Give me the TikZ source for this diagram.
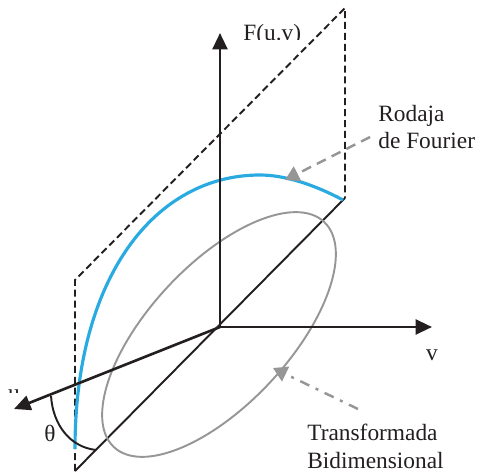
\documentclass[tikz,border=0pt]{standalone}
\usepackage{fontspec}
\setmainfont{Liberation Serif}
\definecolor{SliceBlue}{RGB}{41, 171, 226}
\definecolor{MarkGray} {RGB}{150, 150, 150}
\definecolor{InkBlack} {RGB}{35, 31, 32}
\usetikzlibrary{arrows.meta, positioning}

\begin{document}
\begin{tikzpicture}[
  x=0.02cm, y=-0.02cm,
  label/.style={
    align=center, inner sep=0pt,
    text=InkBlack,
    font=\fontsize{13.3}{15.9}\selectfont},
  axis/.style={
    -{Triangle[length=3.3mm, width=3mm]},
    line width=1.5pt, draw=InkBlack},
  frame/.style={
    line width=1.1pt,
    dash pattern=on 4pt off 2.2pt,
    draw=InkBlack},
  pointer/.style={
    -{Triangle[length=2.8mm, width=3.2mm]},
    line width=1.4pt, draw=MarkGray}
]
\useasboundingbox (0,0) rectangle (477,476);

\coordinate (orig) at (220,327);
\coordinate (fTip) at (220,33);
\coordinate (vTip) at (432,327);
\coordinate (uTip) at (14,409);
\coordinate (low)  at (75,471);
\coordinate (left) at (75,280);
\coordinate (high) at (345,8);
\coordinate (end)  at (345,198);

% solid diagonal and plane
\draw[line width=1.1pt, draw=InkBlack] (low) -- (end);
\draw[frame] (low) -- (left) -- (high) -- (end);

% ellipse and slice
\draw[MarkGray, line width=1.1pt, rotate around={47:(219,334.5)}]
  (219,334.5) ellipse (154 and 70);
\draw[SliceBlue, line width=1.8pt]
  (75,449) .. controls (75,277) and (155,175) .. (260,175)
  .. controls (285,175) and (315,185) .. (343,200);

% axes
\draw[axis] (orig) -- (fTip);
\draw[axis] (orig) -- (vTip);
\draw[axis] (orig) -- (uTip);

% angle
\coordinate (arcA) at (51,396);
\coordinate (arcB) at (96,450);
\draw[line width=1.1pt, draw=InkBlack]
  (arcA) .. controls (53,425) and (70,447) .. (arcB);
\node[label] (theta) at (50,433) {θ};

% clipped labels
\begin{scope}
  \clip (230,10) rectangle (320,39.5);
  \node[label, anchor=base west] (fLabel) at (243,41) {F(u.v)};
\end{scope}
\begin{scope}
  \clip (0,380) rectangle (30,392.5);
  \node[label, anchor=base] (uLabel) at (14,400) {u};
\end{scope}
\node[label, anchor=base] (vLabel) at (432,360) {v};

% callouts
\node[label, anchor=west, align=left] (sliceText) at (378,127)
  {Rodaja\\de Fourier};
\node[label, anchor=west, align=left] (planeText) at (307,446)
  {Transformada\\Bidimensional};

\coordinate (sliceTail) at (370,137);
\coordinate (sliceHead) at (285,180);
\coordinate (planeTail) at (358,409);
\coordinate (planeHead) at (273,368);
\draw[pointer, dash pattern=on 5.7pt off 3.7pt] (sliceTail) -- (sliceHead);
\draw[pointer, dash pattern=on 5.7pt off 4pt on 1.7pt off 4pt]
  (planeTail) -- (planeHead);

\end{tikzpicture}
\end{document}
